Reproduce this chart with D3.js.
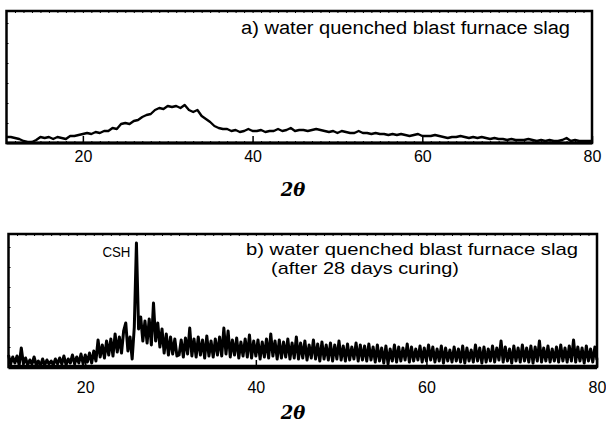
<!DOCTYPE html>
<html>
<head>
<meta charset="utf-8">
<script src="https://cdn.jsdelivr.net/npm/d3@7/dist/d3.min.js"></script>
<style>
  body { margin: 0; background: #fff; }
  text { font-family: "Liberation Sans", Arial, sans-serif; fill: #000; }
</style>
</head>
<body>
<div id="chart"></div>
<script>
// scan grids (2theta start / step) and counts
var scan_a_start = 11, scan_a_step = 0.5;
var scan_a = [
  6, 6, 5, 4, 2, 1, 1, 3, 6, 5, 6, 4, 6, 5, 4, 7, 7, 8,          // 11 - 19.5
  9, 10, 9, 11, 10, 12, 12, 15, 14, 19, 20, 19, 22, 23, 26, 28, 29, 33, 35, 34, // 20 - 29.5
  37, 36, 37, 35, 38, 33, 31, 33, 27, 24, 21, 17, 15, 14, 14, 12, 13, 11, 12, 14, // 30 - 39.5
  12, 12, 13, 11, 12, 12, 14, 12, 13, 15, 12, 13, 13, 12, 13, 14, 13, 12, 11, 12, // 40 - 49.5
  10, 12, 11, 10, 10, 12, 10, 10, 9, 10, 9, 9, 8, 9, 8, 9, 8, 7, 8, 9,           // 50 - 59.5
  7, 7, 7, 8, 7, 6, 5, 6, 6, 7, 6, 5, 6, 5, 6, 5, 4, 5, 4, 4,                     // 60 - 69.5
  3, 4, 3, 3, 3, 4, 3, 2, 3, 2, 3, 2, 2, 3, 5, 2, 3, 2, 2, 2,                     // 70 - 79.5
  2                                                                               // 80
];

var scan_b_start = 11, scan_b_step = 0.25;
var scan_b = [
  12, 3, 10, 4, 11, 2, 19, 3,      // 11
  9, 2, 7, 3, 10, 2, 6, 1,         // 13
  8, 2, 7, 3, 6, 2, 8, 3,          // 15
  9, 3, 11, 2, 8, 4, 12, 3,        // 17
  10, 4, 13, 3, 12, 5, 14, 4,      // 19
  16, 6, 27, 10, 22, 9, 26, 12,    // 21
  28, 11, 33, 15, 30, 14, 36, 44,  // 23
  16, 30, 8, 40, 124, 38, 50, 26,  // 25
  46, 24, 48, 22, 64, 26, 44, 20,  // 27
  38, 14, 33, 12, 30, 13, 28, 11,  // 29
  12, 27, 10, 29, 13, 39, 11, 28,  // 31
  10, 30, 12, 27, 9, 31, 11, 26,   // 33
  10, 28, 12, 30, 11, 39, 13, 36,  // 35
  10, 27, 12, 29, 9, 25, 11, 28,   // 37
  10, 32, 9, 26, 11, 27, 8, 25,    // 39
  10, 28, 9, 33, 11, 26, 8, 27,    // 41
  9, 25, 10, 28, 8, 24, 9, 30,     // 43
  8, 24, 9, 26, 7, 22, 9, 27,      // 45
  8, 23, 6, 25, 8, 22, 7, 24,      // 47
  6, 22, 8, 26, 7, 21, 6, 23,      // 49
  7, 20, 8, 24, 6, 22, 7, 21,      // 51
  6, 23, 7, 20, 5, 22, 6, 19,      // 53
  4, 21, 3, 18, 6, 22, 5, 20,      // 55
  6, 19, 7, 23, 5, 20, 6, 18,      // 57
  7, 21, 5, 19, 6, 22, 7, 20,      // 59
  5, 18, 6, 21, 4, 19, 6, 17,      // 61
  5, 20, 6, 18, 5, 21, 4, 19,      // 63
  6, 17, 5, 22, 6, 19, 4, 20,      // 65
  5, 18, 6, 21, 5, 19, 7, 26,      // 67
  5, 20, 6, 18, 4, 21, 6, 19,      // 69
  5, 22, 6, 19, 5, 21, 4, 20,      // 71
  6, 26, 5, 19, 6, 21, 5, 18,      // 73
  6, 20, 5, 22, 6, 19, 5, 21,      // 75
  6, 27, 5, 20, 6, 19, 4, 21,      // 77
  6, 18, 5, 20, 7                  // 79 - 80
];

var tick_values = [20, 40, 60, 80];
var title_a = ["a) water quenched blast furnace slag"];
var title_b = ["b) water quenched blast furnace slag", "(after 28 days curing)"];
var peak_names = ["CSH"];
var peak_at = [26];

var svg = d3.select("#chart")
    .append("svg")
    .attr("width", 606)
    .attr("height", 425);

function toPoints(start, step, counts) {
    return counts.map(function (c, i) { return { t: start + i * step, c: c }; });
}

function drawPanel(p) {
    var x = d3.scaleLinear().domain([11, 80]).range([p.left, p.right]);
    var y = d3.scaleLinear().domain([0, p.ymax]).range([p.bottom, p.top]);
    var g = svg.append("g");

    // minor ticks along top, bottom and left
    var minor = d3.range(12, 80, 1);
    g.append("g")
        .attr("transform", "translate(0," + p.bottom + ")")
        .call(d3.axisBottom(x).tickValues(minor).tickSize(-2).tickFormat(""))
        .call(function (s) { s.select(".domain").remove(); s.selectAll("line").attr("stroke-width", 1); });
    g.append("g")
        .attr("transform", "translate(0," + p.top + ")")
        .call(d3.axisTop(x).tickValues(minor).tickSize(-2).tickFormat(""))
        .call(function (s) { s.select(".domain").remove(); s.selectAll("line").attr("stroke-width", 1); });
    g.append("g")
        .attr("transform", "translate(" + p.left + ",0)")
        .call(d3.axisLeft(y).ticks(6).tickSize(-2).tickFormat(""))
        .call(function (s) { s.select(".domain").remove(); s.selectAll("line").attr("stroke-width", 1); });

    // trace
    var line = d3.line()
        .x(function (d) { return x(d.t); })
        .y(function (d) { return y(d.c); });
    g.append("path")
        .datum(p.data)
        .attr("fill", "none")
        .attr("stroke", "#000")
        .attr("stroke-width", p.lineWidth)
        .attr("stroke-linejoin", "round")
        .attr("d", line);

    // frame
    g.append("rect")
        .attr("x", p.left)
        .attr("y", p.top)
        .attr("width", p.right - p.left)
        .attr("height", p.bottom - p.top)
        .attr("fill", "none")
        .attr("stroke", "#000")
        .attr("stroke-width", 2.5);
    g.append("line")
        .attr("x1", p.left).attr("x2", p.right)
        .attr("y1", p.bottom).attr("y2", p.bottom)
        .attr("stroke", "#000")
        .attr("stroke-width", p.axisWidth);

    // major ticks + labels
    var ax = g.append("g")
        .attr("transform", "translate(0," + p.bottom + ")")
        .call(d3.axisBottom(x).tickValues(tick_values).tickSizeInner(-7).tickSizeOuter(0).tickPadding(p.pad));
    ax.select(".domain").remove();
    ax.selectAll("line").attr("stroke-width", 1.5);
    ax.selectAll("text")
        .attr("font-size", "16px")
        .style("font-family", "'Liberation Sans', Arial, sans-serif");

    // 2theta
    g.append("text")
        .attr("x", 293)
        .attr("y", p.thetaY)
        .attr("text-anchor", "middle")
        .attr("font-size", "18px")
        .attr("font-weight", "bold")
        .attr("font-style", "italic")
        .style("font-family", "'DejaVu Serif', serif")
        .text("2θ");

    return { x: x, y: y, g: g };
}

var pa = drawPanel({
    left: 6.5, right: 592, top: 11, bottom: 143, ymax: 132,
    data: toPoints(scan_a_start, scan_a_step, scan_a),
    lineWidth: 2.4, axisWidth: 3, pad: 8, thetaY: 196
});
pa.g.append("text")
    .attr("x", 241).attr("y", 34)
    .attr("font-size", "18px")
    .attr("textLength", 329)
    .attr("lengthAdjust", "spacingAndGlyphs")
    .text(title_a[0]);

var pb = drawPanel({
    left: 8.5, right: 597, top: 234, bottom: 367, ymax: 133,
    data: toPoints(scan_b_start, scan_b_step, scan_b),
    lineWidth: 3, axisWidth: 4.5, pad: 15, thetaY: 419
});
pb.g.append("text")
    .attr("x", 246).attr("y", 255)
    .attr("font-size", "17px")
    .attr("textLength", 332)
    .attr("lengthAdjust", "spacingAndGlyphs")
    .text(title_b[0]);
pb.g.append("text")
    .attr("x", 271).attr("y", 274)
    .attr("font-size", "17px")
    .attr("textLength", 188)
    .attr("lengthAdjust", "spacingAndGlyphs")
    .text(title_b[1]);
pb.g.selectAll(".peak")
    .data(peak_names)
    .enter().append("text")
    .attr("class", "peak")
    .attr("x", function (d, i) { return pb.x(peak_at[i]) - 6; })
    .attr("y", 257)
    .attr("text-anchor", "end")
    .attr("font-size", "14px")
    .attr("textLength", 28)
    .attr("lengthAdjust", "spacingAndGlyphs")
    .text(function (d) { return d; });
</script>
</body>
</html>
